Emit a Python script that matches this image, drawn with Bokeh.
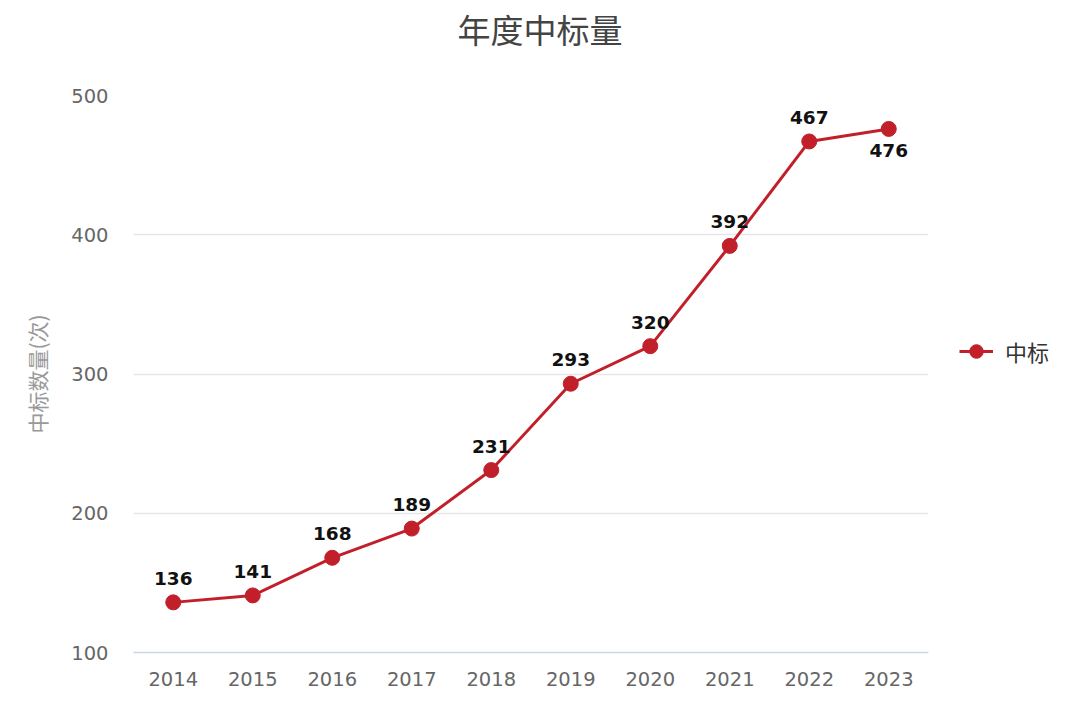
from bokeh.plotting import figure
from bokeh.models import ColumnDataSource, Legend, LegendItem, FactorRange, Range1d, FixedTicker, Div
from bokeh.layouts import column, row
from bokeh.embed import file_html
from bokeh.resources import INLINE
from bokeh.core.properties import value

years = ["2014", "2015", "2016", "2017", "2018", "2019", "2020", "2021", "2022", "2023"]
counts = [136, 141, 168, 189, 231, 293, 320, 392, 467, 476]
y_ticks = [100, 200, 300, 400, 500]
title_text = "年度中标量"
y_label = "中标数量(次)"
series_name = "中标"

RED = "#c1202b"
CJK = "Noto Sans CJK SC"
NUM = "DejaVu Sans"

TOTAL_W = 1064
TITLE_H = 58
MAIN_W, MAIN_H = 932, 647
LEG_W = TOTAL_W - MAIN_W

title = Div(text=title_text, width=TOTAL_W, height=TITLE_H, margin=0,
            styles={"font-family": CJK, "font-size": "33px", "color": "#444444",
                    "text-align": "center", "line-height": f"{TITLE_H}px",
                    "width": f"{TOTAL_W}px", "text-indent": "16px"})

p = figure(width=MAIN_W, height=MAIN_H, x_range=FactorRange(*years), y_range=Range1d(100, 500),
           output_backend="svg", toolbar_location=None,
           min_border_left=133, min_border_right=4, min_border_top=37, min_border_bottom=53)
p.outline_line_color = None
p.background_fill_color = "white"
p.border_fill_color = "white"

p.xaxis.axis_line_color = "#ccd6eb"
p.xaxis.axis_line_width = 1.5
p.xaxis.major_tick_line_color = None
p.xaxis.minor_tick_line_color = None
p.xaxis.major_label_text_font = NUM
p.xaxis.major_label_text_font_size = "19.5px"
p.xaxis.major_label_text_color = "#666666"
p.xaxis.major_label_standoff = 13

p.yaxis.ticker = FixedTicker(ticks=y_ticks)
p.yaxis.axis_line_color = None
p.yaxis.major_tick_line_color = None
p.yaxis.minor_tick_line_color = None
p.yaxis.major_label_text_font = NUM
p.yaxis.major_label_text_font_size = "19.5px"
p.yaxis.major_label_text_color = "#666666"
p.yaxis.major_label_standoff = 19
p.yaxis.axis_label = y_label
p.yaxis.axis_label_text_font = CJK
p.yaxis.axis_label_text_font_size = "21px"
p.yaxis.axis_label_text_font_style = "normal"
p.yaxis.axis_label_text_color = "#999999"
p.yaxis.axis_label_standoff = 16

p.xgrid.grid_line_color = None
p.ygrid.grid_line_color = "#e6e6e6"
p.ygrid.grid_line_width = 1.5

label_offsets = [-24] * (len(counts) - 1) + [22]
src = ColumnDataSource(dict(x=years, y=counts, t=[str(c) for c in counts], off=label_offsets))

p.line("x", "y", source=src, line_color=RED, line_width=3)
p.scatter("x", "y", source=src, size=15, fill_color=RED, line_color=RED)
p.text("x", "y", text="t", source=src, y_offset="off", text_align="center", text_baseline="middle",
       text_font=value(NUM), text_font_style="bold", text_font_size="18.5px", text_color="#111111")

# legend panel: a separate figure whose (hidden) renderers share the series data
pl = figure(width=LEG_W, height=MAIN_H, x_range=FactorRange(*years), y_range=Range1d(100, 500),
            output_backend="svg", toolbar_location=None, x_axis_location=None, y_axis_location=None,
            min_border=0)
pl.outline_line_color = None
pl.xgrid.visible = False
pl.ygrid.visible = False
l_ln = pl.line("x", "y", source=src, line_color=RED, line_width=3, visible=False)
l_sc = pl.scatter("x", "y", source=src, size=15, fill_color=RED, line_color=RED, visible=False)
legend = Legend(items=[LegendItem(label=series_name, renderers=[l_ln, l_sc])],
                location=(27, 283), border_line_color=None, background_fill_alpha=0,
                inactive_fill_alpha=0, click_policy="none",
                label_text_font=CJK, label_text_font_size="22px", label_text_color="#333333",
                glyph_width=34, glyph_height=36, label_standoff=12, padding=0, margin=0)
pl.add_layout(legend, "center")

layout = column(title, row(p, pl, spacing=0), spacing=0)
open("out.html", "w").write(file_html(layout, INLINE))
